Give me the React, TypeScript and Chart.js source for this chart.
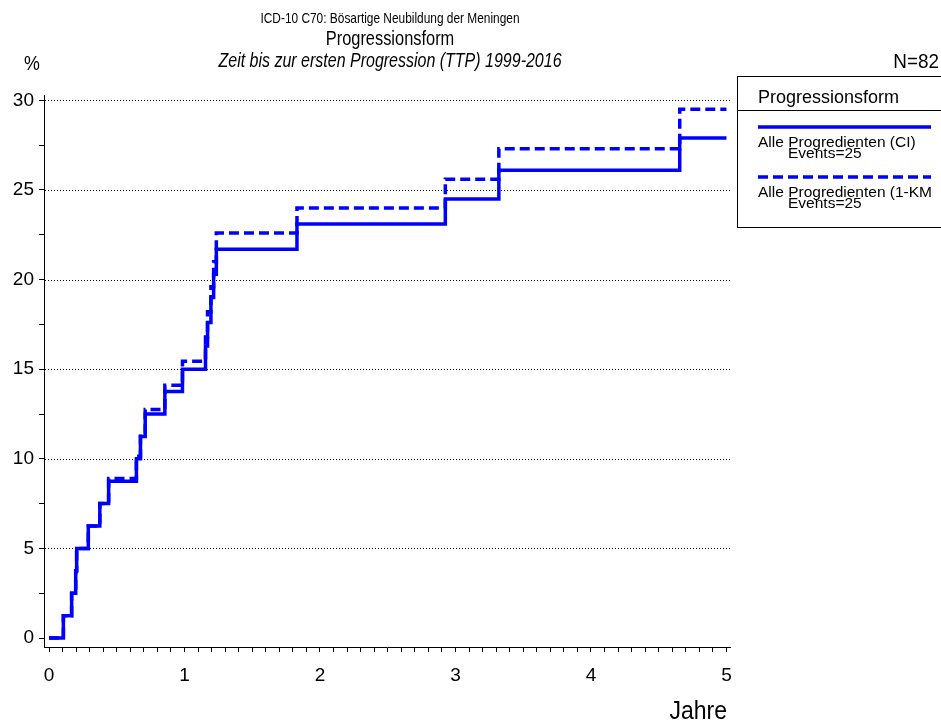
import { useEffect, useRef } from 'react';
import { Chart, registerables } from 'chart.js';

Chart.register(...registerables);

// Time points (years) where the step curves change
const years = [0, 0.106, 0.167, 0.197, 0.204, 0.29, 0.375, 0.44, 0.645, 0.675, 0.71, 0.855, 0.985, 1.155, 1.17, 1.195, 1.215, 1.235, 1.83, 2.925, 3.32, 4.655, 5.0];
// Cumulative incidence (CI), %
const ciValues = [0, 1.25, 2.5, 3.75, 5.0, 6.25, 7.5, 8.75, 10.0, 11.25, 12.5, 13.75, 15.0, 16.3, 17.6, 19.0, 20.3, 21.7, 23.1, 24.5, 26.1, 27.9, 27.9];
// 1 - Kaplan-Meier, %
const kmValues = [0, 1.25, 2.5, 3.75, 5.0, 6.25, 7.5, 8.9, 10.15, 11.45, 12.75, 14.1, 15.45, 16.8, 18.2, 19.6, 21.0, 22.6, 24.0, 25.6, 27.3, 29.5, 29.5];

const xTickLabels = ['0', '1', '2', '3', '4', '5'];
const yTickLabels = ['0', '5', '10', '15', '20', '25', '30'];
const gridValues = [5, 10, 15, 20, 25, 30];

const titleLines = [
  'ICD-10 C70: Bösartige Neubildung der Meningen',
  'Progressionsform',
  'Zeit bis zur ersten Progression (TTP) 1999-2016',
];
const legendTitle = 'Progressionsform';
const seriesNames = ['Alle Progredienten (CI)', 'Alle Progredienten (1-KM'];
const seriesEvents = ['Events=25', 'Events=25'];
const nLabel = 'N=82';
const yUnit = '%';
const xTitle = 'Jahre';

const BLUE = '#0000ff';
const FONT = '"Liberation Sans", Arial, sans-serif';

function isMult(v: number, m: number) {
  const r = v / m;
  return Math.abs(r - Math.round(r)) < 1e-6;
}

function narrowText(
  ctx: CanvasRenderingContext2D,
  text: string,
  x: number,
  y: number,
  font: string,
  align: CanvasTextAlign,
  sx: number
) {
  ctx.save();
  ctx.translate(x, y);
  ctx.scale(sx, 1);
  ctx.font = font;
  ctx.textAlign = align;
  ctx.textBaseline = 'alphabetic';
  ctx.fillStyle = '#000';
  ctx.fillText(text, 0, 0);
  ctx.restore();
}

const gridPlugin = {
  id: 'dottedGrid',
  beforeDatasetsDraw(chart: any) {
    const ctx = chart.ctx as CanvasRenderingContext2D;
    const area = chart.chartArea;
    const ys = chart.scales.y;
    ctx.save();
    ctx.strokeStyle = '#000';
    ctx.lineWidth = 1;
    ctx.setLineDash([1, 2]);
    gridValues.forEach((v) => {
      const py = Math.round(ys.getPixelForValue(v)) + 0.5;
      ctx.beginPath();
      ctx.moveTo(area.left + 1, py);
      ctx.lineTo(area.right, py);
      ctx.stroke();
    });
    ctx.restore();
  },
};

const textPlugin = {
  id: 'textPlugin',
  afterDraw(chart: any) {
    const ctx = chart.ctx as CanvasRenderingContext2D;
    const area = chart.chartArea;
    const cx = (area.left + area.right) / 2 + 3;
    narrowText(ctx, titleLines[0], cx, 23, `14.5px ${FONT}`, 'center', 0.82);
    narrowText(ctx, titleLines[1], cx, 45, `20px ${FONT}`, 'center', 0.82);
    narrowText(ctx, titleLines[2], cx, 67, `italic 19.5px ${FONT}`, 'center', 0.82);
    narrowText(ctx, yUnit, 24, 70, `21px ${FONT}`, 'left', 0.85);
    narrowText(ctx, nLabel, 939, 68, `21px ${FONT}`, 'right', 0.9);
    narrowText(ctx, xTitle, 727, 719, `25px ${FONT}`, 'right', 0.92);

    ctx.save();
    // legend box
    const bx = 737, by = 76, bw = 205, bh = 151;
    ctx.strokeStyle = '#000';
    ctx.lineWidth = 1;
    ctx.strokeRect(bx + 0.5, by + 0.5, bw, bh);
    ctx.beginPath();
    ctx.moveTo(bx, by + 34.5);
    ctx.lineTo(bx + bw, by + 34.5);
    ctx.stroke();
    ctx.fillStyle = '#000';
    ctx.textAlign = 'left';
    ctx.textBaseline = 'alphabetic';
    ctx.font = `18px ${FONT}`;
    ctx.fillText(legendTitle, bx + 21, by + 27);

    const items = [
      { y: by + 51, dash: [] as number[] },
      { y: by + 101, dash: [10, 5] },
    ];
    items.forEach((it, i) => {
      ctx.strokeStyle = BLUE;
      ctx.lineWidth = 3.5;
      ctx.setLineDash(it.dash);
      ctx.beginPath();
      ctx.moveTo(bx + 21, it.y);
      ctx.lineTo(bx + 194, it.y);
      ctx.stroke();
      ctx.setLineDash([]);
      ctx.fillStyle = '#000';
      ctx.font = `15.5px ${FONT}`;
      ctx.fillText(seriesNames[i], bx + 21, it.y + 20);
      ctx.fillText(seriesEvents[i], bx + 51, it.y + 31);
    });
    ctx.restore();
  },
};

export default function App() {
  const ref = useRef<HTMLCanvasElement | null>(null);
  useEffect(() => {
    if (!ref.current) return;
    const chart = new Chart(ref.current, {
      type: 'line',
      data: {
        datasets: [
          {
            label: seriesNames[0],
            data: years.map((x, i) => ({ x, y: ciValues[i] })),
            borderColor: BLUE,
            borderWidth: 3.5,
            pointRadius: 0,
            stepped: 'before',
            fill: false,
          },
          {
            label: seriesNames[1],
            data: years.map((x, i) => ({ x, y: kmValues[i] })),
            borderColor: BLUE,
            borderWidth: 3.5,
            borderDash: [10, 5],
            pointRadius: 0,
            stepped: 'before',
            fill: false,
          },
        ],
      },
      options: {
        responsive: false,
        animation: false,
        events: [],
        layout: { padding: { left: 0, right: 211, top: 95, bottom: 0 } },
        plugins: {
          legend: { display: false },
          title: { display: false },
          tooltip: { enabled: false },
        },
        scales: {
          x: {
            type: 'linear',
            min: -0.037,
            max: 5.026,
            afterFit: (s: any) => { s.height = 79; },
            border: { display: true, color: '#000', width: 1 },
            grid: {
              drawOnChartArea: false,
              drawTicks: true,
              tickLength: 5,
              tickColor: '#000',
              tickWidth: 1,
            },
            ticks: {
              stepSize: 0.1,
              includeBounds: false,
              autoSkip: false,
              maxRotation: 0,
              padding: 12,
              color: '#000',
              font: { family: FONT, size: 19 },
              callback: (v: any) => {
                const n = Number(v);
                if (!isMult(n, 1)) return '';
                return xTickLabels[Math.round(n)] ?? '';
              },
            },
          },
          y: {
            type: 'linear',
            min: -0.5,
            max: 30.3,
            afterFit: (s: any) => { s.width = 44; },
            border: { display: true, color: '#000', width: 1 },
            grid: {
              drawOnChartArea: false,
              drawTicks: true,
              tickLength: 5,
              tickColor: '#000',
              tickWidth: 1,
            },
            ticks: {
              stepSize: 2.5,
              includeBounds: false,
              autoSkip: false,
              padding: 5,
              color: '#000',
              font: { family: FONT, size: 19 },
              callback: (v: any) => {
                const n = Number(v);
                if (!isMult(n, 5)) return '';
                return yTickLabels[Math.round(n / 5)] ?? '';
              },
            },
          },
        },
      },
      plugins: [gridPlugin, textPlugin],
    });
    return () => chart.destroy();
  }, []);
  return (
    <div style={{ position: 'absolute', left: 0, top: 0, width: 941, height: 726, background: '#fff' }}>
      <canvas ref={ref} width={941} height={726} style={{ display: 'block' }} />
    </div>
  );
}
